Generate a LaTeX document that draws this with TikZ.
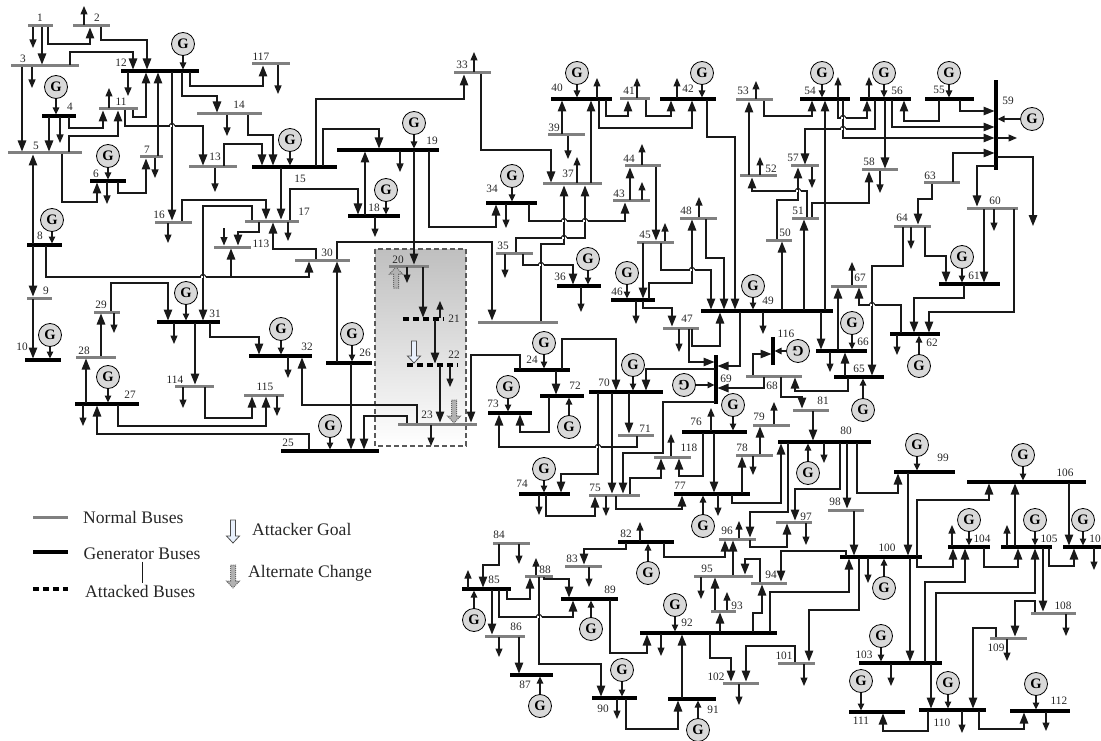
\documentclass[tikz,border=0pt]{standalone}
\usepackage{fontspec}
\setmainfont{Liberation Serif}
\usetikzlibrary{arrows.meta}
\definecolor{busgray}{RGB}{128,128,128}
\definecolor{genfill}{RGB}{217,217,217}
\definecolor{linek}{RGB}{25,25,25}
\definecolor{goalblue}{RGB}{232,240,252}
\newcommand{\fatarrow}[5]{%
  \draw[#1] (#2-2.5,#3) -- (#2+2.5,#3) -- (#2+2.5,#4) -- (#2+6.5,#4) -- (#2,#5) -- (#2-6.5,#4) -- (#2-2.5,#4) -- cycle;}
\tikzset{
  nbus/.style={fill=busgray, inner sep=0pt, minimum height=3pt},
  gbus/.style={fill=black, inner sep=0pt, minimum height=4pt},
  abus/.style={inner sep=0pt, minimum height=3pt},
  adash/.style={black, line width=3.2pt, dash pattern=on 6.5pt off 3.5pt},
  gen/.style={circle, draw=black, fill=genfill, line width=0.8pt, inner sep=0pt, minimum size=23pt,
      font=\fontsize{14.5}{15}\selectfont\bfseries},
  lab/.style={font=\fontsize{11.3}{12}\selectfont, text=black!85, inner sep=0pt},
  fl/.style={-{Triangle[length=11pt,width=8.5pt]}, linek, line width=1.2pt, shorten >=1.5pt, shorten <=1pt},
  ll/.style={-{Triangle[length=8.5pt,width=7pt]}, linek, line width=1.2pt, shorten <=1pt},
  gl/.style={-{Triangle[length=7pt,width=6.5pt]}, linek, line width=1.2pt, shorten >=1.5pt},
  hopl/.style={linek, line width=1pt},
  legt/.style={font=\fontsize{17.6}{20}\selectfont, text=black!85, anchor=west, inner sep=0pt},
  goalarr/.style={draw=black!70, fill=goalblue, line width=0.8pt},
  altarr/.style={draw=black!60, densely dotted, fill=gray!60, line width=1pt},
}

\begin{document}
\begin{tikzpicture}[x=1pt,y=-1pt]
\useasboundingbox (0,0) rectangle (1101,741);
% attacked area
\shade[top color=gray!50, bottom color=white] (375,249) rectangle (466,446);
\draw[black!65, line width=1.1pt, dash pattern=on 5pt off 3pt] (375,249) rectangle (466,446);
% buses
\foreach \n/\xa/\xb/\y in {1/28/53/26,2/73/110/26,3/11/79/66,5/8/82/153,7/140/163/157,9/27/52/298,
  11/99/138/109,13/189/237/167,14/197/262/114,16/155/192/222,17/245/299/221,20/389/429/266,
  23/398/477/424,28/76/116/357,29/94/120/312,30/295/350/260,33/454/491/73,35/496/533/253,
  37/543/602/184,39/548/585/135,41/620/650/99,43/613/650/201,44/625/661/166,45/637/674/242,
  47/663/699/328,48/680/717/218,50/766/792/240,51/792/819/218,52/740/777/176,53/736/773/100,
  57/791/819/166,58/862/898/170,60/967/1018/208,63/924/960/183,64/894/931/226,67/831/867/286,
  68/746/802/376,71/618/654/435,75/589/640/495,78/736/773/455,79/753/790/425,81/793/829/410,
  83/565/602/566,84/493/530/543,86/485/525/636,88/525/553/576,93/711/736/611,94/751/787/583,
  95/694/753/576,96/719/756/539,97/776/812/522,98/828/864/510,101/778/815/663,102/723/759/683,
  108/1031/1076/613,109/990/1027/638,113/214/251/247,114/175/214/386,115/244/284/395,
  117/252/290/64,118/654/691/457,x/478/558/322}
  \node[nbus, minimum width={(\xb-\xa)*1pt}] (b\n) at ({(\xa+\xb)/2},\y) {};
\foreach \n/\xa/\xb/\y in {4/42/76/116,6/90/126/181,8/27/62/245,10/25/61/360,12/121/199/71,
  15/252/337/167,18/348/400/216,19/337/439/150,24/514/570/370,25/281/379/451,26/326/372/363,
  27/75/139/404,31/157/220/322,32/249/312/356,34/486/537/203,36/557/601/286,40/551/612/99,
  42/660/716/99,46/611/655/300,49/701/833/311,54/800/850/99,55/925/974/99,56/860/911/99,
  61/939/1000/284,62/890/940/334,65/834/884/377,66/816/867/351,70/589/663/392,72/540/584/396,
  73/488/532/413,74/519/570/494,76/682/747/432,77/674/750/494,80/778/871/442,82/618/674/542,
  85/462/511/589,87/510/553/675,89/561/618/599,90/592/637/698,91/668/716/699,92/640/777/633,
  99/894/955/472,100/840/922/557,103/859/942/663,104/948/990/547,105/1001/1052/547,
  106/967/1086/482,107/1063/1101/547,110/919/986/710,111/849/905/712,112/1010/1070/711}
  \node[gbus, minimum width={(\xb-\xa)*1pt}] (b\n) at ({(\xa+\xb)/2},\y) {};
\foreach \n/\xa/\xb/\y in {21/403/443/319,22/407/457/365}{
  \node[abus, minimum width={(\xb-\xa)*1pt}] (b\n) at ({(\xa+\xb)/2},\y) {};
  \draw[adash] (b\n.west) -- (b\n.east);
}
\node[gbus, minimum width=4pt, minimum height=90pt] (b59) at (996,125) {};
\node[gbus, minimum width=4pt, minimum height=49pt] (b69) at (716,379.5) {};
\node[gbus, minimum width=4pt, minimum height=28pt] (b116) at (773,351) {};
% straight lines
\foreach \a/\b/\x in {1/3/42,3/5/22,4/5/49,7/12/158,12/16/172,8/5/33,8/9/33,9/10/33,15/17/281,
  18/19/365,19/20/414,26/30/337,26/25/351,37/40/591,39/40/562,43/44/630,44/45/656,45/46/643,
  49/51/804,49/50/782,49/54/825,49/66/821,66/67/838,81/80/813,65/66/845,24/72/556,70/71/629,
  70/75/612,76/77/714,77/78/742,78/79/760,80/98/847,98/100/854,95/96/733,85/86/492,86/87/519,
  91/92/682,92/93/720,93/95/715,99/100/908,100/103/910,105/106/1015,106/107/1069,105/108/1043,
  103/110/931,20/21/423,21/22/435,22/23/440,27/28/86,28/29/101,31/114/195,60/61/984,56/58/885,
  52/53/749}
  \draw[fl] (b\a -| \x,0) -- (b\b -| \x,0);
% lines with two bends
\foreach \a/\b/\x/\y/\u in {1/2/48/44/90,2/12/101/40/147,3/12/70/52/133,4/11/69/128/103,
  5/11/69/136/118,11/12/133/117/146,11/13/125/126/203,12/14/182/96/217,12/117/190/86/263,
  14/15/248/135/273,13/15/224/144/262,5/6/62/202/97,6/7/118/193/146,16/17/182/200/266,
  17/18/290/189/358,17/113/259/232/238,17/31/252/206/203,30/17/316/249/273,8/30/46/277/309,
  15/33/316/99/464,15/19/323/129/379,19/34/429/227/496,30/x/337/242/492,33/37/481/150/551,
  34/43/529/221/625,35/37/516/238/585,x/37/541/244/564,35/36/523/265/573,40/41/606/116/628,
  40/42/599/128/692,41/42/646/116/671,42/49/707/137/735,45/49/661/270/711,46/48/649/283/692,
  48/49/706/258/724,46/47/643/308/672,47/49/692/346/720,68/81/781/397/802,65/68/848/391/795,
  24/23/520/355/471,24/70/562/339/616,72/73/549/432/520,71/73/637/447/499,70/74/598/474/561,
  74/75/546/516/595,75/118/630/478/661,75/77/616/509/682,76/118/703/476/679,77/80/732/503/781,
  80/96/788/512/750,80/97/840/489/795,80/99/857/493/898,96/97/750/547/787,82/96/664/557/725,
  82/83/626/549/584,84/85/499/565/483,85/88/507/599/530,85/89/499/617/573,88/89/544/579/569,
  88/90/539/664/601,89/92/610/653/647,90/91/626/729/678,92/102/710/658/731,101/102/795/646/746,
  92/94/753/613/762,94/95/760/559/745,92/100/770/592/849,100/94/846/551/781,100/101/859/610/809,
  100/104/917/567/953,100/106/917/500/989,103/104/925/582/965,103/105/936/593/1035,
  104/105/984/567/1018,105/107/1049/566/1074,108/109/1035/601/1015,109/110/996/628/973,
  110/111/928/731/883,110/112/979/729/1024,23/25/407/416/364,23/32/417/405/302,25/27/309/434/97,
  29/31/111/283/168,31/32/210/337/259,114/115/205/418/252,27/115/118/426/266,53/54/764/116/812,
  51/52/807/191/752,50/57/777/200/798,51/58/812/203/869,56/57/875/129/805,54/56/838/118/867,
  55/56/939/121/904,63/64/932/199/918,64/61/925/256/946,64/65/903/266/872,61/62/964/298/914,
  60/62/1014/312/929,62/67/901/305/859}
  \draw[fl] (b\a -| \x,0) |- (\u,\y) -- (b\b -| \u,0);
% lines ending on the upright buses
\foreach \a/\b/\x/\y in {47/69/689/362,49/69/740/366,68/116/753/354,68/69/764/388,54/59/843/138,
  56/59/892/127,55/59/960/111,63/59/953/153}
  \draw[fl] (b\a -| \x,0) |- (b\b |- 0,\y);
\draw[fl] (b69 |- 0,369) -| (b70 -| 646,0);
\draw[fl] (b59 |- 0,166) -| (b60 -| 977,0);
\draw[fl] (b69 |- 0,402) -| (663,453) -| (b75 -| 623,0);
\coordinate (j113) at (231,277);
\draw[fl] (j113) -- (b113 -| j113);
% loads
\foreach \n/\x/\y in {1/33/48,2/84/6,3/32/88,4/60/143,11/109/88,12/128/96,6/107/204,7/155/178,
  117/278/94,14/227/136,13/215/192,16/168/243,17/288/241,18/375/237,19/400/172,33/474/52,
  34/506/228,35/505/278,36/581/312,37/577/157,39/568/159,40/597/78,41/637/78,42/677/78,
  43/642/182,44/642/144,45/665/223,48/699/197,46/636/324,47/679/352,49/763/334,66/830/372,
  74/539/515,75/606/516,118/671/434,76/711/408,79/774/402,78/753/475,77/718/516,80/824/463,
  97/806/545,96/739/521,82/640/522,83/589/587,84/519/564,85/468/570,88/536/558,86/499/657,
  92/661/656,90/617/719,102/739/705,93/727/592,95/701/599,101/804/686,100/868/583,104/952/525,
  105/1007/525,107/1094/570,108/1066/636,109/1007/661,103/891/686,110/962/733,112/1046/731,
  20/407/283,21/440/301,22/450/387,23/431/446,27/83/426,29/114/333,31/174/344,32/288/378,
  114/183/408,115/277/416,53/756/81,52/760/157,57/812/188,58/880/193,54/838/77,56/869/77,
  64/911/249,60/994/231,67/852/262,62/897/355}{
  \coordinate (e\n x\x) at (\x,\y);
  \draw[ll] (b\n -| e\n x\x) -- (e\n x\x);
}
\coordinate (e113) at (224,227);
\coordinate (e59a) at (1017,138);
\coordinate (e59b) at (1033,226);
\draw[ll, shorten >=1.5pt] (e113) -- (b113 -| e113);
\draw[ll] (b59 |- e59a) -- (e59a);
\draw[fl, shorten >=0pt] (b59 |- 0,157) -| (e59b);
% crossings
\foreach \x/\y in {172/126,203/277,564/221,585/221,564/238,541/265,692/270,798/191,843/129,
  843/118,872/305,598/447,539/617}{
  \draw[white, line width=2pt] (\x-2.5,\y) -- (\x+2.5,\y);
  \draw[hopl] (\x,\y-2.5) -- (\x,\y+2.5);
  \draw[hopl] (\x-3,\y) .. controls (\x-2,\y-3.5) and (\x+2,\y-3.5) .. (\x+3,\y);
}
% generators
\foreach \n/\x/\y in {12/183/44,4/56/87,6/108/156,15/290/140,8/52/220,10/50/335,31/186/293,
  32/281/329,26/352/334,27/108/377,25/330/426,19/414/123,18/386/190,34/512/176,36/588/259,
  40/577/73,42/702/73,46/627/273,54/822/73,56/884/73,55/949/73,61/962/257,49/753/286,66/852/323,
  65/863/410,62/919/366,24/544/343,70/633/365,72/569/427,73/508/387,76/733/405,74/544/469,
  77/703/526,80/808/473,82/648/573,85/474/620,89/591/629,87/540/706,90/622/670,91/698/730,
  92/675/605,99/917/445,100/884/588,104/969/520,105/1035/520,106/1023/455,107/1083/520,
  103/881/636,110/948/683,111/861/681,112/1036/684}{
  \node[gen] (g\n) at (\x,\y) {G};
  \draw[gl] (g\n) -- (b\n -| g\n);
}
\node[gen] (g59) at (1032,119) {G};
\node[gen, rotate=180] (g116) at (798,351) {G};
\node[gen, rotate=180] (g69) at (684,385) {G};
\foreach \n in {59,116,69}
  \draw[gl] (g\n) -- (b\n |- g\n);
% bus numbers
\foreach \n/\x/\y in {1/40/18,2/97/18,3/23/59,4/70/107,5/36/146,6/96/174,7/147/150,8/40/236,
  9/46/291,10/22/347,11/121/102,12/121/63,13/215/157,14/239/105,15/300/179,16/159/215,17/304/212,
  18/374/208,19/432/141,20/398/260,21/454/319,22/454/355,23/427/415,24/532/360,25/288/443,
  26/365/353,27/130/395,28/84/351,29/101/305,30/327/253,31/215/314,32/307/347,33/462/65,
  34/492/189,35/503/246,36/560/277,37/568/174,39/554/128,40/557/88,41/629/91,42/688/89,
  43/619/194,44/629/159,45/645/235,46/617/292,47/687/319,48/686/211,49/768/301,50/785/233,
  51/798/211,52/771/169,53/743/91,54/810/91,55/939/90,56/897/91,57/793/158,58/869/162,
  59/1008/101,60/995/201,61/974/276,62/932/343,63/930/176,64/902/218,65/859/369,66/863/342,
  67/860/278,68/772/386,69/726/379,70/604/383,71/645/429,72/575/386,73/493/404,74/522/484,
  75/595/488,76/696/422,77/680/486,78/742/448,79/759/417,80/846/431,81/823/401,82/626/534,
  83/572/559,84/499/535,85/494/580,86/516/627,87/525/685,88/545/570,89/610/590,90/603/709,
  91/713/710,92/687/623,93/737/606,94/771/575,95/707/569,96/727/531,97/806/517,98/835/502,
  99/943/458,100/887/548,101/784/656,102/716/677,103/864/655,104/982/539,105/1049/539,
  106/1065/473,108/1063/606,109/996/648,110/942/723,111/861/721,112/1059/701,113/261/244,
  114/175/380,115/265/387,116/786/334,117/261/57,118/689/448}
  \node[lab] (t\n) at (\x,\y) {\n};
\node[lab] (t107) at (1095,539) {10};
% arrows in the attacked area
\fatarrow{altarr}{396}{288}{274}{267}
\fatarrow{altarr}{454}{400}{416}{423}
\fatarrow{goalarr}{414}{341}{356}{363}
% key
\node[nbus, minimum width=35pt] (knorm) at (50.5,517) {};
\node[gbus, minimum width=35pt] (kgen) at (50.5,552) {};
\node[abus, minimum width=35pt] (katt) at (50.5,589) {};
\draw[adash] (katt.west) -- (katt.east);
\node[legt] (tnorm) at (83,517) {Normal Buses};
\node[legt] (tgen) at (83.5,554) {Generator Buses};
\node[legt] (tatt) at (85,591) {Attacked Buses};
\draw[linek, line width=0.7pt, shorten <=1.5pt, shorten >=1.5pt] (tgen.south -| 142,0) -- (tatt.north -| 142,0);
\fatarrow{goalarr}{233}{520}{536}{543}
\fatarrow{altarr}{233}{565}{581}{588}
\node[legt] (tgoal) at (252,529) {Attacker Goal};
\node[legt] (talt) at (248,573) {Alternate Change};
\end{tikzpicture}
\end{document}
